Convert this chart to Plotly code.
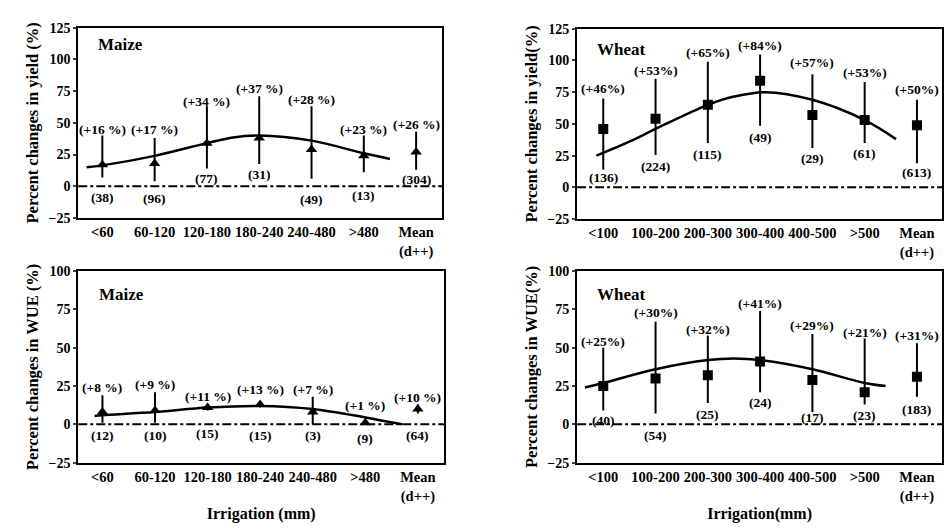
import plotly.graph_objects as go

maize_cats = ["<60", "60-120", "120-180", "180-240", "240-480", ">480", "Mean<br>(d++)"]
wheat_cats = ["<100", "100-200", "200-300", "300-400", "400-500", ">500", "Mean<br>(d++)"]

# Maize yield
my_val = [17, 18, 34, 38, 29, 24, 27]
my_hi = [40, 38, 63, 71, 63, 40, 43]
my_lo = [7, 4, 14, 17.5, 6, 11, 13]
my_pct = ["(+16 %)", "(+17 %)", "(+34 %)", "(+37 %)", "(+28 %)", "(+23 %)", "(+26 %)"]
my_n = ["(38)", "(96)", "(77)", "(31)", "(49)", "(13)", "(304)"]
my_pct_y = [44.5, 45, 67, 77, 68, 44.5, 49]
my_n_y = [-9, -9.5, 6, 9.5, -10, -7.5, 5]
my_fit_x = [-0.3, 0, 1, 2, 2.5, 3, 4, 5, 5.5]
my_fit_y = [15, 16.5, 24, 34, 38.5, 40, 36, 26, 21.5]

# Wheat yield
wy_val = [46, 54, 65, 84, 57, 53, 49]
wy_hi = [70, 85.5, 99, 104.6, 89, 83, 69]
wy_lo = [14, 25.5, 35, 48.5, 31, 35, 19]
wy_pct = ["(+46%)", "(+53%)", "(+65%)", "(+84%)", "(+57%)", "(+53%)", "(+50%)"]
wy_n = ["(136)", "(224)", "(115)", "(49)", "(29)", "(61)", "(613)"]
wy_pct_y = [78, 92, 106, 111.5, 98, 90.5, 77]
wy_n_y = [7.6, 16.6, 26, 39.5, 23, 27, 11.5]
wy_fit_x = [-0.13, 0.5, 1, 2, 2.5, 3.1, 4, 5, 5.6]
wy_fit_y = [25, 36, 46, 65, 71.5, 75, 69, 53, 38]

# Maize WUE
mw_val = [8, 9, 11, 13, 8, 1, 10]
mw_hi = [19, 21, 13, 15, 18, 3, 13]
mw_lo = [1, 1, 9, 11, 0, 0, 7]
mw_pct = ["(+8 %)", "(+9 %)", "(+11 %)", "(+13 %)", "(+7 %)", "(+1 %)", "(+10 %)"]
mw_n = ["(12)", "(10)", "(15)", "(15)", "(3)", "(9)", "(64)"]
mw_pct_y = [24, 26, 18.4, 23, 23, 12, 17.6]
mw_n_y = [-7.4, -7.4, -5.7, -7, -7, -9, -7]
mw_fit_x = [-0.15, 0, 1, 2, 3, 4, 5, 5.7]
mw_fit_y = [5.5, 6, 8, 11, 12, 10, 4.5, 0]

# Wheat WUE
ww_val = [25, 30, 32, 41, 29, 21, 31]
ww_hi = [50, 67, 58, 74, 59, 56, 53]
ww_lo = [9, 7, 14, 21, 8, 13, 18]
ww_pct = ["(+25%)", "(+30%)", "(+32%)", "(+41%)", "(+29%)", "(+21%)", "(+31%)"]
ww_n = ["(40)", "(54)", "(25)", "(24)", "(17)", "(23)", "(183)"]
ww_pct_y = [54, 73, 62, 79, 64.5, 60, 58]
ww_n_y = [2.5, -7, 6.7, 14.5, 4.6, 5.7, 10]
ww_fit_x = [-0.35, 0, 1, 2, 2.5, 3, 4, 5, 5.4]
ww_fit_y = [24, 27, 36, 42, 43, 42, 36, 27, 25]

FONT = "Liberation Serif"
fig = go.Figure()

panels = [
    dict(ax="", cats=maize_cats, val=my_val, hi=my_hi, lo=my_lo, pct=my_pct, n=my_n, py=my_pct_y, ny=my_n_y,
         fx=my_fit_x, fy=my_fit_y, sym="triangle-up", xd=[0.083, 0.469], yd=[0.591, 0.960],
         yr=[-25, 125], dt=25, xr=[-0.46, 6.5], crop="Maize", cy=0.91, yt="Percent changes in yield (%)", xt=None),
    dict(ax="2", cats=wheat_cats, val=wy_val, hi=wy_hi, lo=wy_lo, pct=wy_pct, n=wy_n, py=wy_pct_y, ny=wy_n_y,
         fx=wy_fit_x, fy=wy_fit_y, sym="square", xd=[0.612, 0.999], yd=[0.589, 0.958],
         yr=[-25, 125], dt=25, xr=[-0.5, 6.48], crop="Wheat", cy=0.89, yt="Percent changes in yield(%)", xt=None),
    dict(ax="3", cats=maize_cats, val=mw_val, hi=mw_hi, lo=mw_lo, pct=mw_pct, n=mw_n, py=mw_pct_y, ny=mw_n_y,
         fx=mw_fit_x, fy=mw_fit_y, sym="triangle-up", xd=[0.083, 0.471], yd=[0.117, 0.488],
         yr=[-25, 100], dt=25, xr=[-0.46, 6.5], crop="Maize", cy=0.88, yt="Percent changes in WUE (%)", xt="Irrigation (mm)"),
    dict(ax="4", cats=wheat_cats, val=ww_val, hi=ww_hi, lo=ww_lo, pct=ww_pct, n=ww_n, py=ww_pct_y, ny=ww_n_y,
         fx=ww_fit_x, fy=ww_fit_y, sym="square", xd=[0.612, 0.999], yd=[0.117, 0.488],
         yr=[-25, 100], dt=25, xr=[-0.5, 6.48], crop="Wheat", cy=0.88, yt="Percent changes in WUE(%)", xt="Irrigation(mm)"),
]

B = dict(family=FONT, color="black", weight="bold")
ann = []
shapes = []
layout = {}
for p in panels:
    xa, ya = "x" + p["ax"], "y" + p["ax"]
    idx = list(range(len(p["cats"])))
    fig.add_trace(go.Scatter(x=p["fx"], y=p["fy"], mode="lines", line=dict(color="black", width=2.5, shape="spline"),
                             xaxis=xa, yaxis=ya, showlegend=False, hoverinfo="skip"))
    fig.add_trace(go.Scatter(
        x=idx, y=p["val"], mode="markers", xaxis=xa, yaxis=ya, showlegend=False,
        marker=dict(symbol=p["sym"], size=10, color="black"),
        error_y=dict(type="data", symmetric=False,
                     array=[h - v for h, v in zip(p["hi"], p["val"])],
                     arrayminus=[v - l for v, l in zip(p["val"], p["lo"])],
                     color="black", thickness=2, width=0)))
    for i in idx:
        ann.append(dict(x=i, y=p["py"][i], xref=xa, yref=ya, text=p["pct"][i], showarrow=False,
                        font=dict(size=13.5, **B), yanchor="middle"))
        ann.append(dict(x=i, y=p["ny"][i], xref=xa, yref=ya, text=p["n"][i], showarrow=False,
                        font=dict(size=13.5, **B), yanchor="middle"))
    ann.append(dict(x=0.05, y=p["cy"], xref=xa + " domain", yref=ya + " domain", text=p["crop"],
                    showarrow=False, xanchor="left", yanchor="middle", font=dict(size=17, **B)))
    shapes.append(dict(type="line", xref=xa + " domain", yref=ya, x0=0, x1=1, y0=0, y1=0,
                       line=dict(color="black", width=2, dash="dashdot")))
    layout["xaxis" + p["ax"]] = dict(
        domain=p["xd"], range=p["xr"], tickmode="array", tickvals=idx, ticktext=p["cats"],
        showline=True, mirror=True, linecolor="black", linewidth=2, showgrid=False, zeroline=False,
        ticks="", tickfont=dict(size=14.5, **B), anchor=ya,
        title=dict(text=p["xt"], font=dict(size=16, **B), standoff=4) if p["xt"] else None)
    layout["yaxis" + p["ax"]] = dict(
        domain=p["yd"], range=p["yr"], dtick=p["dt"], showline=True, mirror=True, linecolor="black",
        linewidth=2, showgrid=False, zeroline=False, ticks="outside", ticklen=3, tickwidth=2,
        tickfont=dict(size=14, **B), anchor=xa,
        title=dict(text=p["yt"], font=dict(size=16.5, **B), standoff=6))

fig.update_layout(width=944, height=531, margin=dict(l=0, r=0, t=0, b=0), plot_bgcolor="white",
                  paper_bgcolor="white", annotations=ann, shapes=shapes,
                  font=dict(family=FONT, color="black"), **layout)
fig.write_html("out.html", config={"displayModeBar": False},
               post_script="document.body.style.margin='0';document.body.style.overflow='hidden';")
